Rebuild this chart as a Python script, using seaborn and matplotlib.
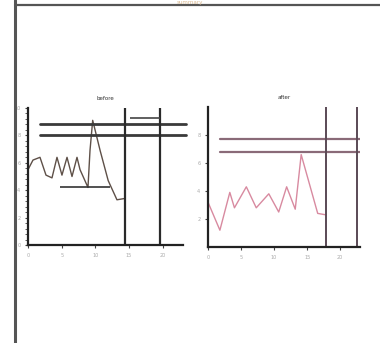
import matplotlib
matplotlib.use("Agg")
import matplotlib.pyplot as plt
from matplotlib.lines import Line2D
from matplotlib.ticker import AutoMinorLocator
import pandas as pd
import seaborn as sns

# left panel series
left_x = [0, 0.74, 1.78, 2.67, 3.56, 4.3, 5.04, 5.79, 6.53, 7.27, 7.72, 8.9, 9.2, 9.6, 10.7, 11.9, 13.2, 14.4]
left_y = [5.5, 6.2, 6.4, 5.1, 4.9, 6.4, 5.1, 6.4, 5.0, 6.4, 5.5, 4.2, 6.9, 9.1, 6.9, 4.7, 3.3, 3.4]

# right panel series
right_x = [0, 1.8, 3.3, 4.0, 5.8, 7.3, 9.2, 10.7, 11.9, 13.2, 14.1, 16.6, 17.8]
right_y = [3.2, 1.2, 3.9, 2.8, 4.3, 2.8, 3.8, 2.5, 4.3, 2.7, 6.6, 2.4, 2.3]

panel_titles = ["before", "after"]
x_ticks = [0, 5, 10, 15, 20]

# reference lines
left_hlines = [8.8, 8.0]
left_vlines = [14.4, 19.6]
right_hlines = [7.7, 6.8]
right_vlines = [17.8, 22.6]

sns.set_theme(style="white")
plt.rcParams["font.family"] = ["DejaVu Sans"]

fig = plt.figure(figsize=(3.8, 3.43), dpi=100)
ax1 = fig.add_axes([28 / 380, 98 / 343, 155 / 380, 137 / 343])
ax2 = fig.add_axes([208 / 380, 96 / 343, 152 / 380, 140 / 343])

df_l = pd.DataFrame({"x": left_x, "y": left_y})
df_r = pd.DataFrame({"x": right_x, "y": right_y})

sns.lineplot(data=df_l, x="x", y="y", ax=ax1, color="#5e5048", lw=1.0, sort=False)
sns.lineplot(data=df_r, x="x", y="y", ax=ax2, color="#d88aa0", lw=1.0, sort=False)

for yv in left_hlines:
    ax1.axhline(yv, xmin=0.08, xmax=1.02, color="#3a3a3a", lw=2, clip_on=False)
for xv in left_vlines:
    ax1.axvline(xv, color="#2a2a2a", lw=1.6)
ax1.hlines(4.2, 4.7, 12.2, color="#333333", lw=1.2)
ax1.hlines(9.3, 15.1, 19.6, color="#444444", lw=1.2)

for yv in right_hlines:
    ax2.axhline(yv, xmin=0.08, xmax=1.0, color="#8a6a78", lw=1.6)
for xv in right_vlines:
    ax2.axvline(xv, color="#5a4a55", lw=1.4)

for ax, t in zip([ax1, ax2], panel_titles):
    ax.set_xlim(0, 23)
    ax.set_ylim(0, 10)
    ax.set_xticks(x_ticks)
    ax.set_xlabel("")
    ax.set_ylabel("")
    ax.set_title(t, fontsize=4, color="#333333", pad=6)
    ax.tick_params(axis="both", labelsize=3.5, labelcolor="#aaaaaa",
                   length=2, width=0.8, color="#444444", bottom=True, left=True)
    for s in ["top", "right"]:
        ax.spines[s].set_visible(False)
    for s in ["left", "bottom"]:
        ax.spines[s].set_color("#222222")
        ax.spines[s].set_linewidth(1.6)

ax1.yaxis.set_minor_locator(AutoMinorLocator(5))
ax1.tick_params(axis="y", which="minor", length=2, width=0.6, color="#444444", left=True)
ax2.set_yticks([2, 4, 6, 8])

# frame lines
fig.add_artist(Line2D([15 / 380, 15 / 380], [0, 1], color="#555555", lw=2.2))
fig.add_artist(Line2D([15 / 380, 1], [1 - 5 / 343, 1 - 5 / 343], color="#555555", lw=1.6))
fig.text(0.5, 0.999, "summary", ha="center", va="top", fontsize=4, color="#d9b890")

fig.savefig("out.png", dpi=100)
